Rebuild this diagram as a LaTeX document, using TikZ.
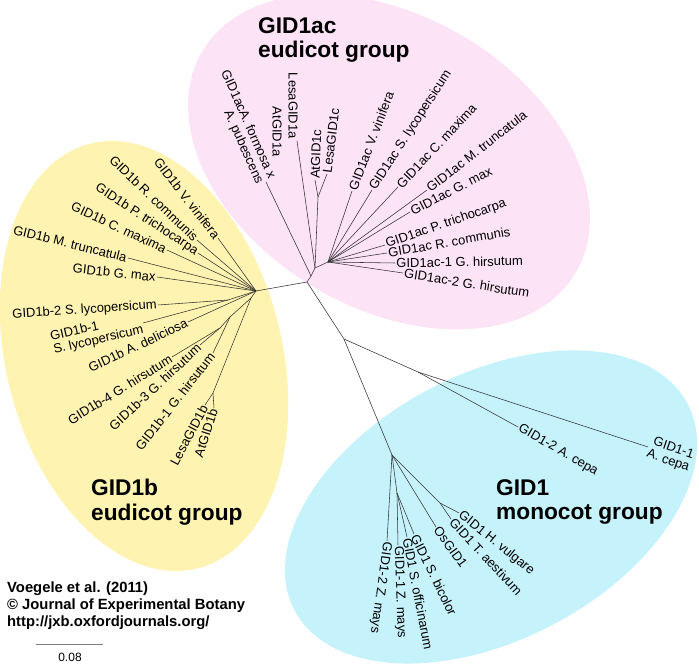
\documentclass[tikz,border=0pt]{standalone}
\usepackage{fontspec}
\setmainfont{Liberation Sans}
\definecolor{pinkfill}{RGB}{252,227,246}
\definecolor{yelfill}{RGB}{254,243,176}
\definecolor{bluefill}{RGB}{198,242,252}
\definecolor{branch}{RGB}{50,50,50}
\begin{document}
\begin{tikzpicture}[x=1pt,y=-1pt,
  br/.style={draw=branch, line width=0.55pt},
  lab/.style={font=\fontsize{13}{13.5}\selectfont, inner sep=1.2pt},
  labR/.style={lab, anchor=west},
  labL/.style={lab, anchor=east},
  grp/.style={font=\fontsize{22.7}{24.5}\selectfont\bfseries, align=left, anchor=north west, inner sep=0pt},
  cred/.style={font=\fontsize{14.8}{16.7}\selectfont\bfseries, align=left, anchor=north west, inner sep=0pt},
]
\useasboundingbox (0,0) rectangle (699,668);
\clip (0,0) rectangle (699,668);
% group backgrounds
\fill[pinkfill, rotate around={-30.7:(389,162)}] (389,162) ellipse [x radius=217pt, y radius=146pt];
\fill[yelfill, rotate around={14.2:(144,356)}] (144,356) ellipse [x radius=138pt, y radius=219pt];
\fill[bluefill, rotate around={27.7:(491,507)}] (491,507) ellipse [x radius=222pt, y radius=133pt];

% ---------- internal nodes ----------
\coordinate (C) at (307,282);
\coordinate (Y) at (256,291);
\coordinate (P1) at (311,276);
\coordinate (P2) at (315,268);
\coordinate (P3) at (328,262);
\coordinate (Pc) at (318,197);
\coordinate (M1) at (344,339);
\coordinate (Ac) at (418,372);
\coordinate (Mz) at (392,455);
\coordinate (Mzh) at (440,503);
\coordinate (Mzs) at (397,493);
\coordinate (Yb) at (251,298);
\coordinate (Ys) at (228,300);
\coordinate (Yh1) at (220,328);
\coordinate (Yh2) at (230,317);
\coordinate (Yl) at (213,393);

% ---------- leaf ends ----------
% pink
\coordinate (aFor) at (266,182);
\coordinate (aLesa) at (297,141);
\coordinate (aAtc) at (315,180);
\coordinate (aLesc) at (327,174);
\coordinate (aVv) at (352,191);
\coordinate (aSl) at (372,190);
\coordinate (aCm) at (398,187);
\coordinate (aMt) at (427,190);
\coordinate (aGm) at (410,212);
\coordinate (aPt) at (385,245);
\coordinate (aRc) at (387,253);
\coordinate (aGh1) at (395,263);
\coordinate (aGh2) at (403,273);
% yellow
\coordinate (bVv) at (218,238);
\coordinate (bRc) at (197,240);
\coordinate (bPt) at (198,253);
\coordinate (bCm) at (167,250);
\coordinate (bMt) at (128,258);
\coordinate (bGm) at (157,277);
\coordinate (bSl2) at (158,305);
\coordinate (bSl1) at (143,323);
\coordinate (bAd) at (188,322);
\coordinate (bGh4) at (172,357);
\coordinate (bGh3) at (200,345);
\coordinate (bGh1) at (213,353);
\coordinate (bLesa) at (205,405);
\coordinate (bAt) at (214,408);
% blue
\coordinate (mAc2) at (518,427);
\coordinate (mAc1) at (648,447);
\coordinate (mHv) at (459,513);
\coordinate (mTa) at (451,519);
\coordinate (mOs) at (436,527);
\coordinate (mSb) at (414,534);
\coordinate (mSo) at (407,537);
\coordinate (mZm1) at (398,545);
\coordinate (mZm2) at (387,541);

% ---------- branches ----------
\draw[br] (Y) -- (C) -- (P1) -- (P2) -- (P3);
\draw[br] (P1) -- (aFor);
\draw[br] (P2) -- (aLesa);
\draw[br] (P2) -- (Pc) -- (aAtc);
\draw[br] (Pc) -- (aLesc);
\foreach \l in {aVv,aSl,aCm,aMt,aGm,aPt,aRc,aGh1,aGh2} \draw[br] (P3) -- (\l);
\foreach \l in {bVv,bRc,bPt,bCm,bMt,bGm,bAd} \draw[br] (Y) -- (\l);
\draw[br] (Y) -- (Ys) -- (bSl2);
\draw[br] (Ys) -- (bSl1);
\draw[br] (Y) -- (Yb) -- (Yh2) -- (Yh1) -- (bGh4);
\draw[br] (Yh1) -- (bGh3);
\draw[br] (Yh2) -- (bGh1);
\draw[br] (Yb) -- (Yl) -- (bLesa);
\draw[br] (Yl) -- (bAt);
\draw[br] (C) -- (M1) -- (Ac) -- (mAc2);
\draw[br] (Ac) -- (mAc1);
\draw[br] (M1) -- (Mz) -- (Mzh) -- (mHv);
\draw[br] (Mzh) -- (mTa);
\draw[br] (Mz) -- (mOs);
\draw[br] (Mz) -- (Mzs) -- (mSb);
\draw[br] (Mzs) -- (mSo);
\draw[br] (Mzs) -- (mZm1);
\draw[br] (Mz) -- (mZm2);

% ---------- labels: pink ----------
\node[labL, rotate=-66, align=right] (tFor) at (aFor) {GID1acA. formosa x\\A. pubescens};
\node[labL, rotate=-90] (tLesa) at (293,140) {LesaGID1a};
\node[labL, rotate=-90] (tAta) at (277,158) {AtGID1a};
\node[labR, rotate=88] (tAtc) at (aAtc) {AtGID1c};
\node[labR, rotate=83] (tLesc) at (aLesc) {LesaGID1c};
\node[labR, rotate=69] (tVv) at (aVv) {GID1ac V. vinifera};
\node[labR, rotate=57] (tSl) at (aSl) {GID1ac S. lycopersicum};
\node[labR, rotate=47] (tCm) at (aCm) {GID1ac C. maxima};
\node[labR, rotate=38] (tMt) at (aMt) {GID1ac M. truncatula};
\node[labR, rotate=27] (tGm) at (aGm) {GID1ac G. max};
\node[labR, rotate=19] (tPt) at (aPt) {GID1ac P. trichocarpa};
\node[labR, rotate=10] (tRc) at (aRc) {GID1ac R. communis};
\node[labR, rotate=1] (tGh1) at (aGh1) {GID1ac-1 G. hirsutum};
\node[labR, rotate=-9] (tGh2) at (aGh2) {GID1ac-2 G. hirsutum};

% ---------- labels: yellow ----------
\node[labL, rotate=-52] (uVv) at (bVv) {GID1b V. vinifera};
\node[labL, rotate=-44] (uRc) at (bRc) {GID1b R. communis};
\node[labL, rotate=-33] (uPt) at (bPt) {GID1b P. trichocarpa};
\node[labL, rotate=-25] (uCm) at (bCm) {GID1b C. maxima};
\node[labL, rotate=-14] (uMt) at (bMt) {GID1b M. truncatula};
\node[labL, rotate=-6] (uGm) at (bGm) {GID1b G. max};
\node[labL, rotate=4] (uSl2) at (bSl2) {GID1b-2 S. lycopersicum};
\node[labL, rotate=13, align=left] (uSl1) at (bSl1) {GID1b-1\\S. lycopersicum};
\node[labL, rotate=25] (uAd) at (bAd) {GID1b A. deliciosa};
\node[labL, rotate=32] (uGh4) at (bGh4) {GID1b-4 G. hirsutum};
\node[labL, rotate=43] (uGh3) at (bGh3) {GID1b-3 G. hirsutum};
\node[labL, rotate=52] (uGh1) at (bGh1) {GID1b-1 G. hirsutum};
\node[labL, rotate=62] (uLesa) at (bLesa) {LesaGID1b};
\node[labL, rotate=72] (uAt) at (bAt) {AtGID1b};

% ---------- labels: blue ----------
\node[labR, rotate=-30] (vAc2) at (mAc2) {GID1-2 A. cepa};
\node[labR, rotate=-19, align=right] (vAc1) at (mAc1) {GID1-1\\A. cepa};
\node[labR, rotate=-39] (vHv) at (mHv) {GID1 H. vulgare};
\node[labR, rotate=-47] (vTa) at (mTa) {GID1 T. aestivum};
\node[labR, rotate=-54] (vOs) at (mOs) {OsGID1};
\node[labR, rotate=-64] (vSb) at (mSb) {GID1 S. bicolor};
\node[labR, rotate=-79] (vSo) at (mSo) {GID1 S. officinarum};
\node[labR, rotate=-88] (vZm1) at (mZm1) {GID1-1 Z. mays};
\node[labR, rotate=-98] (vZm2) at (mZm2) {GID1-2 Z. mays};

% ---------- group titles ----------
\node[grp] (gAC) at (258,17) {GID1ac\\eudicot group};
\node[grp] (gB) at (91,479) {GID1b\\eudicot group};
\node[grp] (gM) at (496,479) {GID1\\monocot group};

% ---------- credits and scale ----------
\node[cred] (credit) at (7,582) {Voegele et al. (2011)\\\textcopyright{} Journal of Experimental Botany\\http://jxb.oxfordjournals.org/};
\coordinate (sb1) at (36,644);
\coordinate (sb2) at (103,644);
\draw[gray, line width=0.9pt] (sb1) -- (sb2);
\node[font=\fontsize{12}{13}\selectfont, inner sep=0pt] (sbl) at (70,657) {0.08};
\end{tikzpicture}
\end{document}
